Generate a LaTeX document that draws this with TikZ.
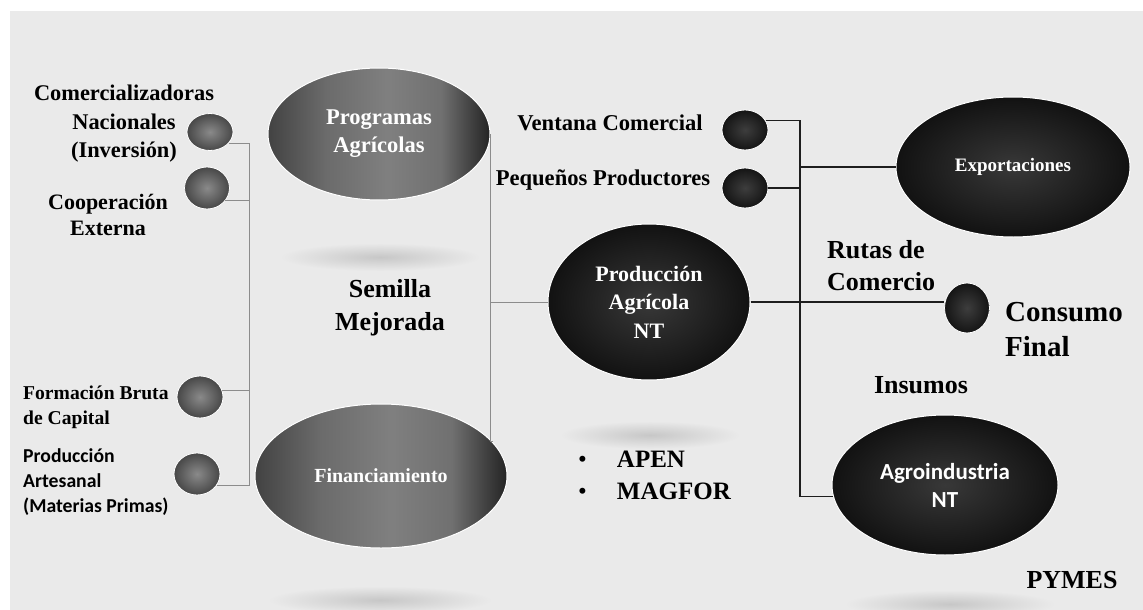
\documentclass[tikz,border=0pt]{standalone}
\usepackage{fontspec}
\setmainfont{Liberation Serif}
\newfontfamily\calibri{Carlito}
\usetikzlibrary{shapes.geometric}

\definecolor{fondo}{HTML}{EAEAEA}
\definecolor{lineagris}{HTML}{8C8C8C}
\definecolor{lineaneg}{HTML}{1E1E1E}

% Sombreado horizontal de los ovalos grises
\pgfdeclarehorizontalshading{grisovalo}{100bp}{color(0bp)=(black!74); color(25bp)=(black!74);
  color(38bp)=(black!58); color(52bp)=(black!50); color(64bp)=(black!56);
  color(75bp)=(black!86); color(100bp)=(black!86)}

\tikzset{
  bolagris/.style={ellipse, shade, draw=white, line width=0.8pt, inner sep=0pt,
    inner color=black!46, outer color=black!72},
  bolaneg/.style={ellipse, shade, draw=white, line width=0.8pt, inner sep=0pt,
    inner color=black!76, outer color=black!92},
  ovalgris/.style={ellipse, shade, shading=grisovalo, draw=white, line width=1pt,
    text=white, align=center},
  ovalneg/.style={ellipse, shade, draw=white, line width=1pt, inner color=black!78,
    outer color=black!93, text=white, align=center},
  etiq/.style={align=center, inner sep=0pt},
  linkgris/.style={draw=lineagris, line width=1pt},
  linkneg/.style={draw=lineaneg, line width=1.3pt},
}

\begin{document}
\begin{tikzpicture}[x=1pt,y=-1pt]

  % Fondo
  \useasboundingbox (0,0) rectangle (1143,610);
  \fill[white] (0,0) rectangle (1143,610);
  \fill[fondo] (10,11) rectangle (1143,610);

  % Sombras difusas
  \shade[inner color=black!22, outer color=fondo] (380,257) ellipse (100 and 14);
  \shade[inner color=black!22, outer color=fondo] (380,600) ellipse (112 and 14);
  \shade[inner color=black!22, outer color=fondo] (650,435) ellipse (90 and 14);
  \shade[inner color=black!22, outer color=fondo] (950,604) ellipse (105 and 14);

  % Bolas de la izquierda
  \node[bolagris, minimum width=46pt, minimum height=37pt] (comer) at (210,132) {};
  \node[bolagris, minimum width=45pt, minimum height=42pt] (coop) at (207,188) {};
  \node[bolagris, minimum width=46pt, minimum height=42pt] (formac) at (200,397) {};
  \node[bolagris, minimum width=46pt, minimum height=42pt] (artes) at (197,474) {};

  % Ovalos grises
  \node[ovalgris, minimum width=222pt, minimum height=132pt,
    font=\bfseries\fontsize{22.5}{28}\selectfont] (prog) at (379,134) {Programas\\Agrícolas};
  \node[ovalgris, minimum width=252pt, minimum height=144pt,
    font=\bfseries\fontsize{20}{24}\selectfont] (fin) at (381,476) {Financiamiento};

  % Ovalos negros
  \node[ovalneg, minimum width=202pt, minimum height=156pt,
    font=\bfseries\fontsize{22}{28.5}\selectfont] (prodag) at (649,302) {Producción\\Agrícola\\NT};
  \node[ovalneg, minimum width=234pt, minimum height=140pt,
    font=\bfseries\fontsize{19}{24}\selectfont] (export) at (1013,167) {Exportaciones};
  \node[ovalneg, minimum width=226pt, minimum height=140pt,
    font=\calibri\bfseries\fontsize{23}{28}\selectfont] (agro) at (945,485) {Agroindustria\\NT};

  % Bolas negras
  \node[bolaneg, minimum width=46pt, minimum height=40pt] (vent) at (745,130) {};
  \node[bolaneg, minimum width=46pt, minimum height=40pt] (peq) at (745,188) {};
  \node[bolaneg, minimum width=45pt, minimum height=50pt] (consumo) at (967,308) {};

  % Textos
  \node[etiq, font=\bfseries\fontsize{22.4}{28.5}\selectfont] (tcomer) at (124,124)
    {Comercializadoras\\Nacionales\\(Inversión)};
  \node[etiq, font=\bfseries\fontsize{22}{26}\selectfont] (tcoop) at (108,215)
    {Cooperación\\Externa};
  \node[etiq, anchor=west, align=left, font=\bfseries\fontsize{19.6}{25}\selectfont]
    (tform) at (23,407) {Formación Bruta\\de Capital};
  \node[etiq, anchor=west, align=left, font=\calibri\bfseries\fontsize{19.7}{25}\selectfont]
    (tartes) at (23,482) {Producción\\Artesanal\\(Materias Primas)};
  \node[etiq, font=\bfseries\fontsize{26}{33}\selectfont] (tsemilla) at (390,308)
    {Semilla\\Mejorada};
  \node[etiq, font=\bfseries\fontsize{22.6}{25}\selectfont] (tvent) at (610,123) {Ventana Comercial};
  \node[etiq, font=\bfseries\fontsize{22.6}{25}\selectfont] (tpeq) at (603,180) {Pequeños Productores};
  \node[etiq, anchor=west, align=left, font=\bfseries\fontsize{26}{32}\selectfont]
    (trutas) at (827,266) {Rutas de\\Comercio};
  \node[etiq, anchor=west, align=left, font=\bfseries\fontsize{29}{35}\selectfont]
    (tconsumo) at (1005,330) {Consumo\\Final};
  \node[etiq, font=\bfseries\fontsize{26}{30}\selectfont] (tinsumos) at (921,385) {Insumos};
  \node[etiq, font=\bfseries\fontsize{26}{30}\selectfont] (tpymes) at (1072,580) {PYMES};
  \node[etiq, anchor=west, align=left, font=\bfseries\fontsize{25}{32}\selectfont]
    (tapen) at (578,475) {{\mdseries\textbullet}\hspace{30pt}APEN\\{\mdseries\textbullet}\hspace{30pt}MAGFOR};

  % Conectores de la izquierda
  \coordinate (lbus) at (249,0);
  \draw[linkgris] (comer.-31) -- (comer.-31 -| lbus) -- (artes.-30 -| lbus) -- (artes.-30);
  \draw[linkgris] (coop.-35) -- (coop.-35 -| lbus);
  \draw[linkgris] (formac.17) -- (formac.17 -| lbus);

  % Conector central
  \draw[linkgris] (prog.east) -- (prog.east |- fin.17) -- (fin.17);
  \draw[linkgris] (prodag.west) -- (prodag.west -| prog.east);

  % Conectores de la derecha
  \coordinate (rbus) at (800,0);
  \draw[linkneg] (vent.25) -| (agro.186 -| rbus) -- (agro.186);
  \draw[linkneg] (peq.east) -- (peq.east -| rbus);
  \draw[linkneg] (export.west) -- (export.west -| rbus);
  \draw[linkneg] (prodag.east) -- (consumo.west |- prodag.east);

\end{tikzpicture}
\end{document}
